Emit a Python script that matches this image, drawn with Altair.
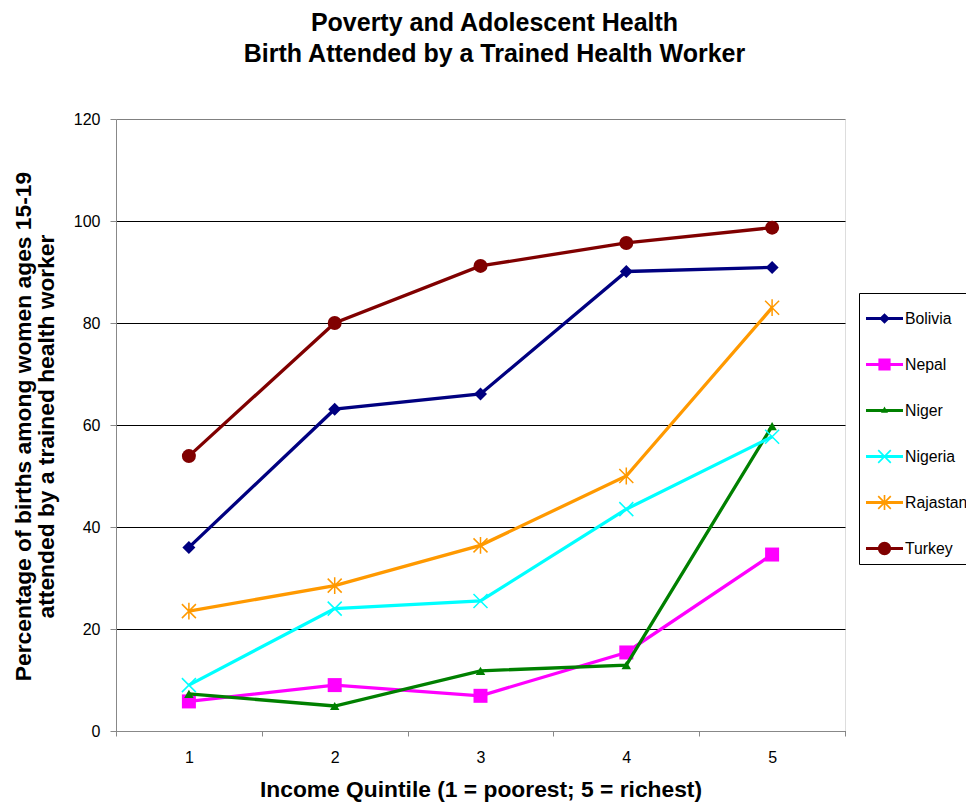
import math
import altair as alt
import pandas as pd

# ---------------- data ----------------
quintiles = ["1", "2", "3", "4", "5"]
series_names = ["Bolivia", "Nepal", "Niger", "Nigeria", "Rajastan", "Turkey"]
bolivia = [36.0, 63.1, 66.1, 90.1, 90.9]
nepal = [5.8, 9.0, 6.9, 15.4, 34.6]
niger = [7.3, 4.9, 11.8, 12.9, 59.8]
nigeria = [9.0, 24.0, 25.5, 43.5, 57.7]
rajastan = [23.5, 28.5, 36.4, 50.0, 83.0]
turkey = [53.9, 80.0, 91.2, 95.7, 98.7]
y_ticks = [0, 20, 40, 60, 80, 100, 120]

series_values = [bolivia, nepal, niger, nigeria, rajastan, turkey]

rows = []
for name, vals in zip(series_names, series_values):
    for q, v in zip(quintiles, vals):
        rows.append({"series": name, "quintile": q, "value": v})
df = pd.DataFrame(rows)

# ---------------- styles ----------------
FONT = "Liberation Sans, Arial, sans-serif"
colors = ["#000080", "#FF00FF", "#008000", "#00FFFF", "#FF9900", "#800000"]
X_PATH = "M-1,-1L1,1M-1,1L1,-1"
STAR_PATH = "M-1,-1L1,1M-1,1L1,-1M0,-1.2L0,1.2"
marker_styles = [
    dict(shape="diamond", size=169, filled=True, strokeWidth=0),
    dict(shape="square", size=196, filled=True, strokeWidth=0),
    dict(shape="triangle-up", size=90, filled=True, strokeWidth=0),
    dict(shape=X_PATH, size=196, filled=False, strokeWidth=1.5),
    dict(shape=STAR_PATH, size=196, filled=False, strokeWidth=1.5),
    dict(shape="circle", size=196, filled=True, strokeWidth=0),
]


# legend symbols: a line segment with the marker on it (filled paths)
def poly(points):
    area = 0.0
    for i in range(len(points)):
        x0, y0 = points[i]
        x1, y1 = points[(i + 1) % len(points)]
        area += x0 * y1 - x1 * y0
    if area < 0:
        points = points[::-1]
    return "M" + "L".join(f"{x:.3f},{y:.3f}" for x, y in points) + "Z"


def seg(p, q, t):
    dx, dy = q[0] - p[0], q[1] - p[1]
    n = math.hypot(dx, dy)
    nx, ny = -dy / n * t, dx / n * t
    return poly([(p[0] + nx, p[1] + ny), (q[0] + nx, q[1] + ny),
                 (q[0] - nx, q[1] - ny), (p[0] - nx, p[1] - ny)])


LT = 0.085
line_p = poly([(-1, -LT), (1, -LT), (1, LT), (-1, LT)])
d = 0.29
sq = 0.33
cr = 0.36
xa = 0.34
tt = 0.045
legend_paths = [
    line_p + poly([(0, -d), (d, 0), (0, d), (-d, 0)]),
    line_p + poly([(-sq, -sq), (sq, -sq), (sq, sq), (-sq, sq)]),
    line_p + poly([(0, -0.22), (0.19, 0.12), (-0.19, 0.12)]),
    line_p + seg((-xa, -xa), (xa, xa), tt) + seg((-xa, xa), (xa, -xa), tt),
    line_p + seg((-xa, -xa), (xa, xa), tt) + seg((-xa, xa), (xa, -xa), tt)
    + seg((0, -0.4), (0, 0.4), tt),
    line_p + poly([(cr * math.cos(2 * math.pi * k / 32), cr * math.sin(2 * math.pi * k / 32))
                   for k in range(32)]),
]

# ---------------- encodings ----------------
x_enc = alt.X(
    "quintile:O",
    bandPosition=0.5,
    scale=alt.Scale(type="band", domain=quintiles, paddingInner=0, paddingOuter=0),
    axis=alt.Axis(
        labelAngle=0, tickBand="extent", tickSize=5, labelPadding=13, grid=False,
        labelFontSize=16, titleFontSize=22.8, titleX=364.5, titleY=47.5,
        title="Income Quintile (1 = poorest; 5 = richest)",
    ),
)
y_enc = alt.Y(
    "value:Q",
    scale=alt.Scale(domain=[0, 120], nice=False, zero=True),
    axis=alt.Axis(
        values=y_ticks, tickSize=6, labelPadding=10, grid=True,
        gridColor={"condition": {"test": "datum.value === 120", "value": "#808080"},
                   "value": "#000000"},
        gridWidth=1, labelFontSize=16, titleFontSize=22.8, titleLineHeight=23,
        titleX=-80.5, titleY=307,
        title=["Percentage of births among women ages 15-19",
               "attended by a trained health worker"],
    ),
)

layers = []
for name, col, ms in zip(series_names, colors, marker_styles):
    base = alt.Chart(df).transform_filter(alt.datum.series == name)
    layers.append(base.mark_line(color=col, strokeWidth=3.3).encode(x=x_enc, y=y_enc))
    layers.append(
        base.mark_point(color=col, opacity=1, **ms).encode(x=x_enc, y=y_enc)
    )

leg = alt.Legend(
    title=None, orient="none", legendX=743, legendY=174,
    symbolSize=1369, symbolStrokeWidth=0, symbolOpacity=1,
    labelOffset=2, rowPadding=19, padding=7,
    strokeColor="#000000", fillColor="#FFFFFF",
    labelFontSize=15.8, labelFont=FONT, labelColor="#000000", labelLimit=0,
)
legend_layer = (
    alt.Chart(df)
    .transform_filter("false")
    .mark_point(filled=True, opacity=1, strokeWidth=0)
    .encode(
        x=x_enc,
        y=y_enc,
        fill=alt.Fill("series:N", scale=alt.Scale(domain=series_names, range=colors), legend=leg),
        shape=alt.Shape("series:N", scale=alt.Scale(domain=series_names, range=legend_paths), legend=leg),
    )
)
layers.append(legend_layer)

chart = (
    alt.layer(*layers)
    .properties(
        width=729,
        height=612,
        title=alt.TitleParams(
            text=["Poverty and Adolescent Health", "Birth Attended by a Trained Health Worker"],
            fontSize=25, font=FONT, fontWeight="bold", lineHeight=31,
            anchor="middle", frame="group", dx=14, offset=44, color="#000000",
        ),
        autosize=alt.AutoSizeParams(type="none"),
        padding={"left": 108, "top": 111, "right": 121, "bottom": 74},
    )
    .configure_view(stroke="#808080", strokeWidth=1)
    .configure_axis(
        domainColor="#000000", domainWidth=1, tickColor="#000000", tickWidth=1,
        labelColor="#000000", labelFont=FONT, titleFont=FONT, titleFontWeight="bold",
        titleColor="#000000",
    )
    .configure(background="#FFFFFF")
)

chart.save("out.html", embed_options={"renderer": "svg", "actions": False})
